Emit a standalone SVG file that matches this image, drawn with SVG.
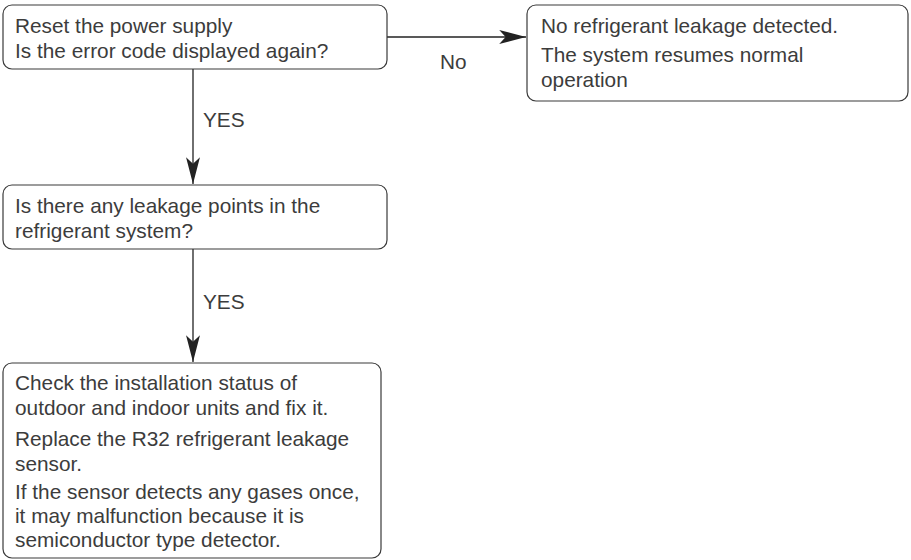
<svg xmlns="http://www.w3.org/2000/svg" width="911" height="560" viewBox="0 0 911 560">
<style>
.box{fill:#fff;stroke:#3a3a3a;stroke-width:1.2}
.t{font-family:"Liberation Sans",Arial,sans-serif;font-size:20.8px;fill:#3c3c3c}
.c{stroke:#222;stroke-width:1.3;fill:none}
</style>
<defs>
<marker id="ah" markerUnits="userSpaceOnUse" markerWidth="30" markerHeight="20" viewBox="-26 -8 28 16" refX="0" refY="0" orient="auto">
<path d="M0,0 L-25,-6.5 L-19,0 L-25,6.5 Z" fill="#222"/>
</marker>
</defs>
<rect width="911" height="560" fill="#fff"/>
<g id="connectors">
<line class="c" x1="387" y1="37" x2="526" y2="37" marker-end="url(#ah)"/>
<line class="c" x1="193" y1="69" x2="193" y2="184" marker-end="url(#ah)"/>
<line class="c" x1="193" y1="249" x2="193" y2="362" marker-end="url(#ah)"/>
<text class="t" x="440" y="69">No</text>
<text class="t" x="203" y="127">YES</text>
<text class="t" x="203" y="309">YES</text>
</g>
<g id="n1">
<rect class="box" x="3" y="5" width="384" height="64" rx="9"/>
<text class="t" x="15" y="33">Reset the power supply</text>
<text class="t" x="15" y="58">Is the error code displayed again?</text>
</g>
<g id="n2">
<rect class="box" x="527" y="5" width="381" height="96" rx="9"/>
<text class="t" x="541" y="33">No refrigerant leakage detected.</text>
<text class="t" x="541" y="62">The system resumes normal</text>
<text class="t" x="541" y="87">operation</text>
</g>
<g id="n3">
<rect class="box" x="3" y="185" width="384" height="64" rx="9"/>
<text class="t" x="15" y="213">Is there any leakage points in the</text>
<text class="t" x="15" y="238">refrigerant system?</text>
</g>
<g id="n4">
<rect class="box" x="3" y="363" width="378" height="195" rx="9"/>
<text class="t" x="15" y="390">Check the installation status of</text>
<text class="t" x="15" y="415">outdoor and indoor units and fix it.</text>
<text class="t" x="15" y="446">Replace the R32 refrigerant leakage</text>
<text class="t" x="15" y="471">sensor.</text>
<text class="t" x="15" y="499">If the sensor detects any gases once,</text>
<text class="t" x="15" y="523">it may malfunction because it is</text>
<text class="t" x="15" y="547">semiconductor type detector.</text>
</g>
</svg>
